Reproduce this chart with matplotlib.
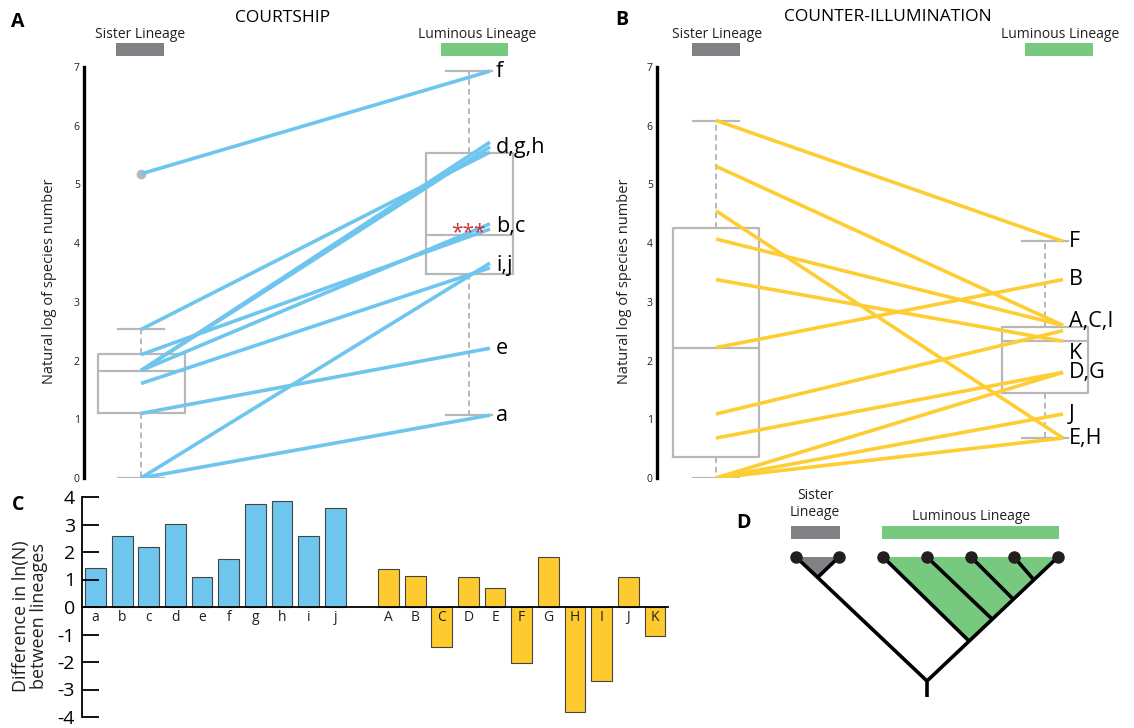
import matplotlib
matplotlib.use('Agg')
import matplotlib.pyplot as plt
import numpy as np

plt.rcParams['font.family'] = ['Open Sans', 'DejaVu Sans']
plt.rcParams['axes.unicode_minus'] = False

W, H = 1134, 728

# panel A: courtship lineages (ln species number)
COURT = ['a', 'b', 'c', 'd', 'e', 'f', 'g', 'h', 'i', 'j']
COURT_SIS = [0.0, 1.83, 2.10, 2.53, 1.10, 5.18, 1.83, 1.83, 1.61, 0.0]
COURT_LUM = [1.07, 4.33, 4.24, 5.55, 2.21, 6.93, 5.64, 5.72, 3.58, 3.66]
COURT_GROUPS = ['f', 'd,g,h', 'b,c', 'i,j', 'e', 'a']

# panel B: counter-illumination lineages
COUNTER = ['A', 'B', 'C', 'D', 'E', 'F', 'G', 'H', 'I', 'J', 'K']
COUNTER_SIS = [1.09, 2.22, 4.07, 0.68, 0.0, 6.09, 0.0, 4.55, 5.31, 0.0, 3.38]
COUNTER_LUM = [2.51, 3.38, 2.60, 1.80, 0.68, 4.03, 1.80, 0.68, 2.60, 1.09, 2.33]
COUNTER_GROUPS = ['F', 'B', 'A,C,I', 'K', 'D,G', 'J', 'E,H']

# box summaries (whislo, q1, med, q3, whishi)
BOX_A_SIS = [0.0, 1.11, 1.83, 2.11, 2.53]
BOX_A_LUM = [1.07, 3.48, 4.14, 5.54, 6.93]
BOX_A_FLIERS = [5.18]
BOX_B_SIS = [0.0, 0.36, 2.22, 4.25, 6.08]
BOX_B_LUM = [0.68, 1.45, 2.33, 2.58, 4.03]

# panel C: differences
DIFF_COURT = [1.42, 2.59, 2.18, 3.02, 1.09, 1.75, 3.76, 3.84, 2.59, 3.61]
DIFF_COUNTER = [1.38, 1.13, -1.47, 1.09, 0.69, -2.04, 1.81, -3.82, -2.70, 1.09, -1.04]

BLUE = '#6ec6ee'
YELLOW = '#fecd34'
BOXGRAY = '#b8b8b8'
BARGRAY = '#808085'
GREEN = '#77c97f'
TXT = '#231f20'

fig = plt.figure(figsize=(W / 100, H / 100), dpi=100)


def px_axes(x0, y0, x1, y1, **kw):
    return fig.add_axes([x0 / W, 1 - y1 / H, (x1 - x0) / W, (y1 - y0) / H], **kw)


# overlay for text, header bars and tree
ov = px_axes(0, 0, W, H)
ov.set_xlim(0, W)
ov.set_ylim(H, 0)
ov.axis('off')


def stats(v, fliers=()):
    return dict(whislo=v[0], q1=v[1], med=v[2], q3=v[3], whishi=v[4], fliers=list(fliers))


def paired_panel(x0, x1, sis, lum, names, groups, color, box_s, box_l, pos, fliers=()):
    ax = px_axes(x0, 67, x1, 478)
    ax.set_xlim(x0, x1)
    ax.set_ylim(0, 7)
    ax.patch.set_alpha(0)
    for s in ['top', 'right', 'bottom']:
        ax.spines[s].set_visible(False)
    ax.spines['left'].set_linewidth(2.4)
    ax.set_xticks([])
    ax.set_yticks(range(8))
    ax.tick_params(axis='y', length=0, pad=3, labelsize=7.5, labelcolor=TXT)
    ax.bxp([stats(box_s, fliers), stats(box_l)], positions=[pos[0], pos[1]],
           widths=[pos[2], pos[2]], showfliers=True, manage_ticks=False,
           boxprops=dict(color=BOXGRAY, lw=1.6),
           medianprops=dict(color=BOXGRAY, lw=1.6),
           whiskerprops=dict(color=BOXGRAY, lw=1.4, ls=(0, (3, 2))),
           capprops=dict(color=BOXGRAY, lw=1.6),
           capwidths=[46, 46],
           flierprops=dict(marker='o', markersize=6, markerfacecolor=BOXGRAY,
                           markeredgecolor=BOXGRAY))
    for s, l in zip(sis, lum):
        ax.plot([pos[0], pos[3]], [s, l], color=color, lw=2.6, solid_capstyle='butt', zorder=3)
    lookup = dict(zip(names, lum))
    for g in groups:
        ys = [lookup[k] for k in g.split(',')]
        y = np.mean(ys)
        if g == 'K':
            y = 2.12
        if g == 'A,C,I':
            y = 2.66
        ax.text(pos[3] + 6, y, g, fontsize=15.5, color='black', va='center', ha='left')
    return ax


axA = paired_panel(84, 600, COURT_SIS, COURT_LUM, COURT, COURT_GROUPS, BLUE,
                   BOX_A_SIS, BOX_A_LUM, (141, 469, 87, 490), BOX_A_FLIERS)
axA.text(468, 4.17, '***', color='#d0303a', fontsize=15, ha='center', va='center', zorder=4)

axB = paired_panel(657, 1134, COUNTER_SIS, COUNTER_LUM, COUNTER, COUNTER_GROUPS, YELLOW,
                   BOX_B_SIS, BOX_B_LUM, (716, 1045, 86, 1063))

# headers
ov.text(18, 22, 'A', fontsize=14, fontweight='bold', ha='center', va='center')
ov.text(283, 18, 'COURTSHIP', fontsize=12.5, ha='center', va='center')
ov.text(622, 20, 'B', fontsize=14, fontweight='bold', ha='center', va='center')
ov.text(888, 17, 'COUNTER-ILLUMINATION', fontsize=12.5, ha='center', va='center')
for cx, lab in [(140, 'Sister Lineage'), (477, 'Luminous Lineage'),
                (717, 'Sister Lineage'), (1060, 'Luminous Lineage')]:
    ov.text(cx, 35, lab, fontsize=10, ha='center', va='center', color=TXT)
for x0, x1, c in [(116, 164, BARGRAY), (441, 508, GREEN), (692, 740, BARGRAY), (1025, 1093, GREEN)]:
    ov.fill_between([x0, x1], 43, 56, color=c, lw=0)

ov.text(50, 281, 'Natural log of species number', fontsize=10.5, rotation=90,
        ha='center', va='center', color=TXT)
ov.text(625, 281, 'Natural log of species number', fontsize=10.5, rotation=90,
        ha='center', va='center', color=TXT)

# panel C
axC = px_axes(82, 497, 668, 717)
xc = np.arange(len(COURT))
xk = np.arange(len(COUNTER)) + len(COURT) + 1
axC.bar(xc, DIFF_COURT, width=0.78, color=BLUE, edgecolor='#444444', lw=0.8)
axC.bar(xk, DIFF_COUNTER, width=0.78, color='#fdcb30', edgecolor='#444444', lw=0.8)
axC.set_xlim(-0.507, 21.49)
axC.set_ylim(-4, 4)
axC.patch.set_alpha(0)
axC.spines['top'].set_visible(False)
axC.spines['right'].set_visible(False)
axC.spines['bottom'].set_position(('data', 0))
axC.spines['left'].set_linewidth(1.3)
axC.spines['bottom'].set_linewidth(1.3)
axC.set_yticks(range(-4, 5))
axC.tick_params(axis='y', direction='in', length=12, width=1.3, pad=5, labelsize=14)
axC.set_xticks(list(xc) + list(xk), COURT + COUNTER)
axC.tick_params(axis='x', length=0, pad=2, labelsize=10, labelcolor=TXT)
ov.text(18, 505, 'C', fontsize=14, fontweight='bold', ha='center', va='center')
ov.text(30, 616, 'Difference in ln(N)\nbetween lineages', fontsize=13, rotation=90,
        ha='center', va='center', linespacing=1.05, color=TXT)

# panel D: tree diagram
TIPS_X = [796, 839, 883, 927, 971, 1014, 1058]
tip_y = 557
root = (927, 681)
ov.fill([796, 818, 839], [tip_y, 577, tip_y], color=BARGRAY, lw=0)
ov.fill([883, 969, 1058], [tip_y, 641, tip_y], color=GREEN, lw=0)
segs = [[(927, 697), root], [root, (796, tip_y)], [(818, 577), (839, tip_y)],
        [root, (1058, tip_y)], [(969, 641), (883, tip_y)], [(992, 619), (927, tip_y)],
        [(1013, 599), (971, tip_y)], [(1034, 580), (1014, tip_y)]]
for (xa, ya), (xb, yb) in segs:
    ov.plot([xa, xb], [ya, yb], color='black', lw=2.6, solid_capstyle='butt')
ov.plot(TIPS_X, [tip_y] * len(TIPS_X), 'o', color='#231f20', markersize=8)
ov.text(743, 523, 'D', fontsize=14, fontweight='bold', ha='center', va='center')
ov.text(815, 504, 'Sister\nLineage', fontsize=10, ha='center', va='center',
        linespacing=1.15, color=TXT)
ov.text(971, 517, 'Luminous Lineage', fontsize=10, ha='center', va='center', color=TXT)
ov.fill_between([791, 840], 526, 539, color=BARGRAY, lw=0)
ov.fill_between([882, 1059], 526, 539, color=GREEN, lw=0)

fig.savefig('out.png', dpi=100)
